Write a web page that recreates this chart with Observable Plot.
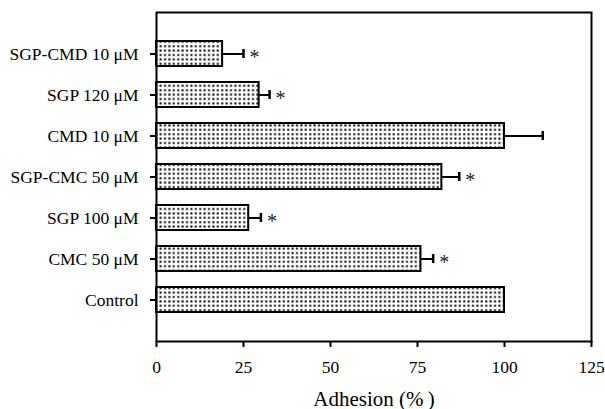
<!DOCTYPE html>
<html>
<head>
<meta charset="utf-8">
<script src="https://cdn.jsdelivr.net/npm/d3@7"></script>
<script src="https://cdn.jsdelivr.net/npm/@observablehq/plot@0.6"></script>
<style>
  html, body { margin: 0; padding: 0; background: #fff; }
  #chart svg { display: block; }
</style>
</head>
<body>
<div id="chart"></div>
<script>
const categories = ["SGP-CMD 10 μM", "SGP 120 μM", "CMD 10 μM", "SGP-CMC 50 μM", "SGP 100 μM", "CMC 50 μM", "Control"];
const values = [19, 29.5, 100, 82, 26.5, 76, 100];
const errors = [6, 3, 11, 5, 3.5, 3.5, 0];
const significant = [true, true, false, true, true, true, false];
const xTicks = [0, 25, 50, 75, 100, 125];

const data = categories.map((c, i) => ({cat: c, value: values[i], err: errors[i], sig: significant[i]}));
const withErr = data.filter(d => d.err > 0);
const sig = data.filter(d => d.sig);

const font = "'Liberation Serif', 'DejaVu Serif', serif";

const plot = Plot.plot({
  width: 605,
  height: 409,
  marginTop: 12,
  marginBottom: 68,
  marginLeft: 156,
  marginRight: 14,
  style: {fontFamily: font, fontSize: "17.5px", color: "#000", background: "#fff"},
  x: {domain: [0, 125]},
  y: {domain: categories, paddingInner: 0.4, paddingOuter: 0.68},
  marks: [
    Plot.barX(data, {x: "value", y: "cat", fill: "url(#dots)", stroke: "#000", strokeWidth: 2}),
    Plot.ruleY(withErr, {x1: "value", x2: d => d.value + d.err, y: "cat", stroke: "#000", strokeWidth: 2}),
    Plot.tickX(withErr, {x: d => d.value + d.err, y: "cat", stroke: "#000", strokeWidth: 2.5, inset: 8}),
    Plot.text(sig, {x: d => d.value + d.err, y: "cat", text: () => "*", dx: 11, dy: 4, fontSize: 20, fill: "#222", textAnchor: "middle"}),
    Plot.frame({stroke: "#000", strokeWidth: 2}),
    Plot.axisX({ticks: xTicks, tickSize: 6, tickPadding: 13, strokeWidth: 2, fontSize: 17.5,
      label: "Adhesion (%\u2009)", labelAnchor: "center", labelArrow: "none", labelOffset: 64}),
    Plot.axisY({tickSize: 6, tickPadding: 12, strokeWidth: 2, fontSize: 17.5, label: null})
  ]
});

// dotted pattern fill
const svg = d3.select(plot);
const defs = svg.insert("defs", ":first-child");
const pat = defs.append("pattern").attr("id", "dots").attr("patternUnits", "userSpaceOnUse")
  .attr("width", 4.4).attr("height", 4.4);
pat.append("rect").attr("width", 4.4).attr("height", 4.4).attr("fill", "#fff");
pat.append("rect").attr("x", 1.2).attr("y", 1.2).attr("width", 2).attr("height", 2).attr("fill", "#000");

// bigger axis title
svg.selectAll("[aria-label='x-axis label'] text").style("font-size", "21px");

document.getElementById("chart").appendChild(plot);
</script>
</body>
</html>
